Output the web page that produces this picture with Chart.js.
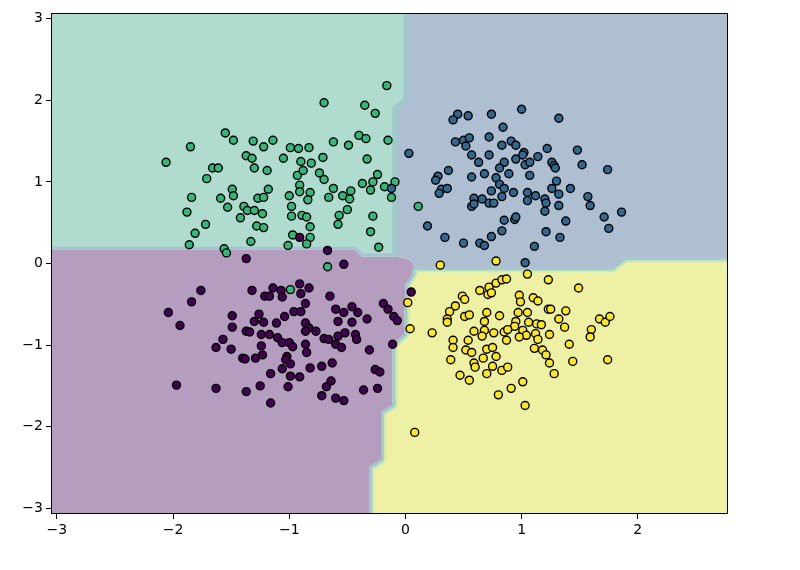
<!DOCTYPE html>
<html>
<head>
<meta charset="utf-8">
<script src="https://cdn.jsdelivr.net/npm/chart.js@4.4.0/dist/chart.umd.min.js"></script>
<style>
  html, body { margin: 0; padding: 0; background: #fff; }
</style>
</head>
<body>
<canvas id="chart" width="800" height="570" style="width:800px;height:570px"></canvas>
<script>
// axis ranges and ticks
var xMin = -3.05, xMax = 2.776;
var yMin = -3.07, yMax = 3.07;
var xTicks = [-3, -2, -1, 0, 1, 2];
var yTicks = [-3, -2, -1, 0, 1, 2, 3];

// class 0 (purple)
var purplePts = [
  [-1.37,0.06],[-0.91,0.32],[-0.67,0.16],[-0.53,-0.01],
  [-1.76,-0.33],[-1.84,-0.47],[-2.04,-0.60],[-1.94,-0.76],
  [-1.32,-0.33],[-1.21,-0.40],[-1.17,-0.40],[-1.14,-0.30],
  [-1.49,-0.64],[-1.49,-0.78],[-1.26,-0.62],[-1.30,-0.71],[-1.22,-0.72],[-1.11,-0.73],
  [-1.37,-0.83],[-1.34,-0.84],[-1.24,-0.87],[-1.17,-0.87],[-1.10,-0.91],
  [-1.57,-0.93],[-1.63,-1.03],[-1.50,-1.05],[-1.24,-1.01],[-1.23,-1.12],[-1.29,-1.16],[-1.40,-1.16],[-1.38,-1.17],
  [-1.16,-1.35],[-1.97,-1.49],[-1.63,-1.53],[-1.37,-1.57],[-1.25,-1.50],[-1.16,-1.71],
  [-1.07,-0.33],[-1.06,-0.41],[-0.91,-0.25],[-0.90,-0.37],[-0.83,-0.30],[-0.65,-0.40],
  [-0.86,-0.49],[-0.96,-0.59],[-0.90,-0.59],[-1.04,-0.65],
  [-1.06,-0.97],[-1.00,-0.97],[-0.97,-1.02],
  [-0.86,-0.73],[-0.83,-0.79],[-0.86,-0.83],[-0.77,-0.83],
  [-0.60,-0.56],[-0.53,-0.60],[-0.46,-0.53],[-0.41,-0.60],[-0.58,-0.71],[-0.46,-0.72],[-0.33,-0.68],
  [-0.70,-0.92],[-0.66,-0.93],[-0.58,-0.89],[-0.52,-0.85],[-0.43,-0.87],[-0.42,-0.93],[-0.60,-0.99],[-0.55,-1.03],
  [-0.86,-0.99],[-0.85,-1.09],[-0.31,-1.06],
  [-0.19,-0.49],[-0.15,-0.56],[-0.10,-0.65],[-0.07,-0.70],[-0.11,-0.99],[0.05,-0.35],
  [-1.02,-1.14],[-1.03,-1.18],[-0.99,-1.23],[-1.06,-1.29],[-0.99,-1.38],[-0.91,-1.39],[-0.82,-1.28],[-0.72,-1.26],[-0.63,-1.22],
  [-0.64,-1.44],[-0.68,-1.51],[-0.72,-1.62],[-0.60,-1.65],[-0.53,-1.68],
  [-0.36,-1.55],[-0.24,-1.53],[-0.26,-1.30],[-0.22,-1.33],[-1.01,-1.51]
];

// class 1 (blue)
var bluePts = [
  [-0.12,0.92],[0.45,1.83],[0.41,1.76],[0.54,1.81],[0.74,1.83],[0.84,1.67],[0.03,1.35],
  [0.43,1.49],[0.50,1.51],[0.55,1.54],[0.52,1.44],[0.72,1.55],[0.83,1.45],[0.91,1.50],[0.95,1.45],
  [0.57,1.33],[0.72,1.33],[0.63,1.24],[0.85,1.24],[0.81,1.17],[0.95,1.28],
  [0.37,1.14],[0.28,1.07],[0.26,1.02],[0.57,1.06],[0.68,1.10],[0.89,1.10],[0.78,1.05],[0.81,0.97],
  [0.31,0.91],[0.36,0.92],[0.29,0.86],[0.74,0.89],[0.85,0.92],[0.93,0.87],
  [0.59,0.80],[0.66,0.79],[0.83,0.82],[0.72,0.74],[0.76,0.74],[0.57,0.70],[0.59,0.73],
  [0.85,0.53],[0.94,0.54],[0.19,0.46],[0.83,0.40],[0.74,0.33],[0.34,0.32],[0.50,0.25],[0.64,0.25],[0.68,0.22],
  [1.00,1.89],[1.32,1.78],[1.22,1.41],[1.48,1.39],[1.14,1.31],[1.02,1.36],[1.01,1.33],
  [1.03,1.21],[1.07,1.24],[1.26,1.24],[1.28,1.20],[1.29,1.17],[1.52,1.21],[1.74,1.15],
  [1.07,1.08],[1.30,1.01],[1.42,0.92],[1.26,0.92],[1.32,0.85],[1.05,0.87],[1.12,0.83],
  [1.05,0.77],[1.20,0.79],[1.21,0.74],[1.32,0.71],[1.57,0.82],[1.59,0.71],[1.20,0.64],
  [1.38,0.52],[1.71,0.57],[1.86,0.63],[1.75,0.43],[1.21,0.39],[1.33,0.32],[1.11,0.21],[1.03,0.01],[0.95,0.57]
];

// class 2 (green)
var greenPts = [
  [-1.55,1.60],[-1.48,1.51],[-1.31,1.50],[-1.22,1.43],[-1.14,1.51],[-1.85,1.43],[-2.06,1.24],
  [-1.37,1.32],[-1.32,1.29],[-1.66,1.17],[-1.61,1.17],[-1.30,1.17],[-1.19,1.14],[-1.71,1.04],
  [-1.49,0.91],[-1.18,0.91],[-1.84,0.81],[-1.59,0.80],[-1.48,0.83],[-1.27,0.80],[-1.22,0.81],
  [-1.53,0.69],[-1.39,0.70],[-1.36,0.65],[-1.30,0.65],[-1.23,0.61],[-1.88,0.63],[-1.42,0.56],
  [-1.72,0.48],[-1.28,0.46],[-1.22,0.44],[-1.81,0.37],[-1.33,0.27],[-1.86,0.23],[-1.56,0.18],[-1.54,0.13],
  [-0.70,1.97],[-0.35,1.94],[-0.26,1.84],[-0.16,2.18],[-0.62,1.49],[-0.40,1.57],[-0.34,1.53],[-0.15,1.51],
  [-0.49,1.45],[-0.99,1.42],[-0.92,1.41],[-0.83,1.42],[-1.05,1.29],[-0.71,1.30],[-0.33,1.28],
  [-0.90,1.25],[-0.81,1.23],[-0.93,1.08],[-0.88,1.14],[-0.74,1.11],[-0.70,1.03],
  [-0.24,1.09],[-0.28,1.00],[-0.37,0.98],[-0.09,1.00],[-0.18,0.94],[-0.30,0.90],[-0.12,0.81],
  [-0.91,0.96],[-0.91,0.88],[-0.82,0.87],[-1.00,0.83],[-0.62,0.92],[-0.66,0.81],[-0.54,0.83],
  [-0.47,0.89],[-0.48,0.79],[-0.84,0.78],[-0.98,0.70],[-0.50,0.66],[-0.98,0.58],[-0.89,0.59],
  [-0.85,0.57],[-0.57,0.59],[-0.28,0.58],[-0.58,0.48],[-0.82,0.45],[-0.30,0.39],[-0.97,0.35],
  [-0.82,0.32],[-0.85,0.24],[-1.01,0.22],[-0.23,0.20],[-0.67,-0.04],[-0.99,-0.32],[0.11,0.70]
];

// class 3 (yellow)
var yellowPts = [
  [0.30,-0.02],[0.78,0.03],[0.02,-0.48],[0.04,-0.80],[0.23,-0.85],
  [0.49,-0.40],[0.51,-0.44],[0.43,-0.52],[0.38,-0.59],[0.36,-0.68],[0.36,-0.72],[0.51,-0.65],[0.55,-0.63],
  [0.64,-0.33],[0.72,-0.29],[0.71,-0.38],[0.74,-0.36],[0.78,-0.24],[0.83,-0.20],
  [0.70,-0.60],[0.68,-0.71],[0.81,-0.64],[0.59,-0.83],[0.68,-0.82],[0.76,-0.85],[0.85,-0.84],[0.87,-0.94],
  [0.66,-0.89],[0.54,-0.94],[0.41,-0.94],[0.41,-1.03],[0.52,-1.06],[0.57,-1.09],[0.70,-1.05],[0.75,-1.03],
  [0.78,-1.14],[0.39,-1.18],[0.67,-1.16],[0.59,-1.22],[0.60,-1.27],[0.75,-1.26],[0.83,-1.31],[0.70,-1.35],
  [0.47,-1.37],[0.55,-1.43],[0.80,-1.61],[0.08,-2.07],
  [1.05,-0.13],[1.23,-0.20],[1.49,-0.30],[0.87,-0.19],[0.98,-0.39],[0.99,-0.47],[1.10,-0.42],[1.14,-0.46],
  [1.23,-0.56],[1.25,-0.56],[1.38,-0.58],[0.97,-0.60],[1.05,-0.60],[1.32,-0.68],[1.37,-0.78],
  [1.67,-0.68],[1.72,-0.72],[1.76,-0.65],[0.95,-0.71],[1.06,-0.72],[1.13,-0.74],[1.17,-0.75],
  [0.94,-0.77],[0.88,-0.81],[1.01,-0.82],[1.12,-0.86],[1.04,-0.88],[0.98,-0.90],[1.14,-0.93],[1.24,-0.87],
  [1.60,-0.81],[1.59,-0.90],[1.41,-0.99],[1.11,-1.04],[1.18,-1.06],[1.21,-1.12],[1.24,-1.22],[1.44,-1.20],
  [1.74,-1.18],[0.88,-1.27],[1.28,-1.35],[1.01,-1.45],[0.91,-1.53],[1.03,-1.74]
];

// decision regions
var greenRegion = [[-3.2,3.2],[0.01,3.2],[0.01,2.01],[-0.086,1.89],[-0.086,0.086],[-0.38,0.086],[-0.44,0.17],[-3.2,0.17]];
var blueRegion = [[0.01,3.2],[2.9,3.2],[2.9,0.074],[1.89,0.074],[1.78,-0.05],[0.10,-0.05],[0.07,-0.01],[0.035,0.05],[-0.086,0.086],[-0.086,1.89],[0.01,2.01]];
var purpleRegion = [[-3.2,0.17],[-0.44,0.17],[-0.38,0.086],[-0.086,0.086],[0.035,0.05],[0.07,-0.01],[0.06,-0.135],[0,-0.26],[-0.01,-0.87],[-0.11,-0.99],[-0.11,-1.73],[-0.21,-1.82],[-0.21,-2.40],[-0.31,-2.49],[-0.31,-3.2],[-3.2,-3.2]];
var yellowRegion = [[-0.31,-3.2],[-0.31,-2.49],[-0.21,-2.40],[-0.21,-1.82],[-0.11,-1.73],[-0.11,-0.99],[-0.01,-0.87],[0,-0.26],[0.06,-0.135],[0.07,-0.01],[0.10,-0.05],[1.78,-0.05],[1.89,0.074],[2.9,0.074],[2.9,-3.2]];
var greenBlueEdge = [[0.01,3.2],[0.01,2.01],[-0.086,1.89],[-0.086,0.086]];

function toXY(arr) {
  return arr.map(function (p) { return { x: p[0], y: p[1] }; });
}

function tickFmt(v) {
  return v < 0 ? '\u2212' + Math.abs(v) : String(v);
}

function tracePath(ctx, sx, sy, pts, close) {
  ctx.beginPath();
  pts.forEach(function (p, i) {
    var px = sx.getPixelForValue(p[0]), py = sy.getPixelForValue(p[1]);
    if (i === 0) ctx.moveTo(px, py); else ctx.lineTo(px, py);
  });
  if (close) ctx.closePath();
}

var regionsPlugin = {
  id: 'regions',
  beforeDatasetsDraw: function (chart) {
    var ctx = chart.ctx, a = chart.chartArea, sx = chart.scales.x, sy = chart.scales.y;
    ctx.save();
    ctx.beginPath();
    ctx.rect(a.left, a.top, a.right - a.left, a.bottom - a.top);
    ctx.clip();

    var fills = [
      [purpleRegion, 'rgb(180,157,190)'],
      [blueRegion, 'rgb(175,191,210)'],
      [greenRegion, 'rgb(176,219,207)'],
      [yellowRegion, 'rgb(238,241,163)']
    ];
    fills.forEach(function (f) {
      tracePath(ctx, sx, sy, f[0], true);
      ctx.fillStyle = f[1];
      ctx.fill();
    });

    ctx.lineJoin = 'round';
    // soft contour bands on the yellow side
    ctx.save();
    tracePath(ctx, sx, sy, yellowRegion, true);
    ctx.clip();
    [[10, 'rgb(205,233,180)'], [6, 'rgb(160,213,204)'], [2.5, 'rgb(168,186,208)']].forEach(function (b) {
      tracePath(ctx, sx, sy, yellowRegion, true);
      ctx.lineWidth = b[0];
      ctx.strokeStyle = b[1];
      ctx.stroke();
    });
    ctx.restore();

    // blue band on the green side of the green/purple edge
    ctx.save();
    tracePath(ctx, sx, sy, greenRegion, true);
    ctx.clip();
    tracePath(ctx, sx, sy, greenRegion, true);
    ctx.lineWidth = 6;
    ctx.strokeStyle = 'rgb(166,196,208)';
    ctx.stroke();
    ctx.restore();

    tracePath(ctx, sx, sy, greenBlueEdge, false);
    ctx.lineWidth = 3;
    ctx.strokeStyle = 'rgb(156,204,202)';
    ctx.stroke();

    ctx.restore();
  },
  afterDatasetsDraw: function (chart) {
    var ctx = chart.ctx, a = chart.chartArea;
    ctx.save();
    ctx.strokeStyle = '#000';
    ctx.lineWidth = 1;
    ctx.strokeRect(a.left + 0.5, a.top + 0.5, a.right - a.left - 1, a.bottom - a.top - 1);
    ctx.restore();
  }
};

function pointSet(pts, color) {
  return {
    data: toXY(pts),
    backgroundColor: color,
    borderColor: '#000',
    borderWidth: 1.4,
    pointRadius: 4,
    pointHoverRadius: 4
  };
}

var tickFont = { family: 'DejaVu Sans', size: 14 };

var ctx = document.getElementById('chart').getContext('2d');
var myChart = new Chart(ctx, {
  type: 'scatter',
  data: {
    datasets: [
      pointSet(purplePts, '#440154'),
      pointSet(bluePts, '#31688e'),
      pointSet(greenPts, '#35b779'),
      pointSet(yellowPts, '#fde725')
    ]
  },
  options: {
    responsive: false,
    animation: false,
    devicePixelRatio: 1,
    layout: { padding: { top: 13, right: 72, left: 0, bottom: 0 } },
    plugins: { legend: { display: false }, tooltip: { enabled: false } },
    scales: {
      x: {
        type: 'linear',
        min: xMin,
        max: xMax,
        afterFit: function (s) { s.height = 56; },
        afterBuildTicks: function (s) { s.ticks = xTicks.map(function (v) { return { value: v }; }); },
        grid: { drawOnChartArea: false, tickLength: 5, tickColor: '#000' },
        border: { display: false },
        ticks: { color: '#000', font: tickFont, padding: 3, maxRotation: 0, callback: tickFmt }
      },
      y: {
        type: 'linear',
        min: yMin,
        max: yMax,
        afterFit: function (s) { s.width = 51; },
        afterBuildTicks: function (s) { s.ticks = yTicks.map(function (v) { return { value: v }; }); },
        grid: { drawOnChartArea: false, tickLength: 5, tickColor: '#000' },
        border: { display: false },
        ticks: { color: '#000', font: tickFont, padding: 3, callback: tickFmt }
      }
    }
  },
  plugins: [regionsPlugin]
});
</script>
</body>
</html>
